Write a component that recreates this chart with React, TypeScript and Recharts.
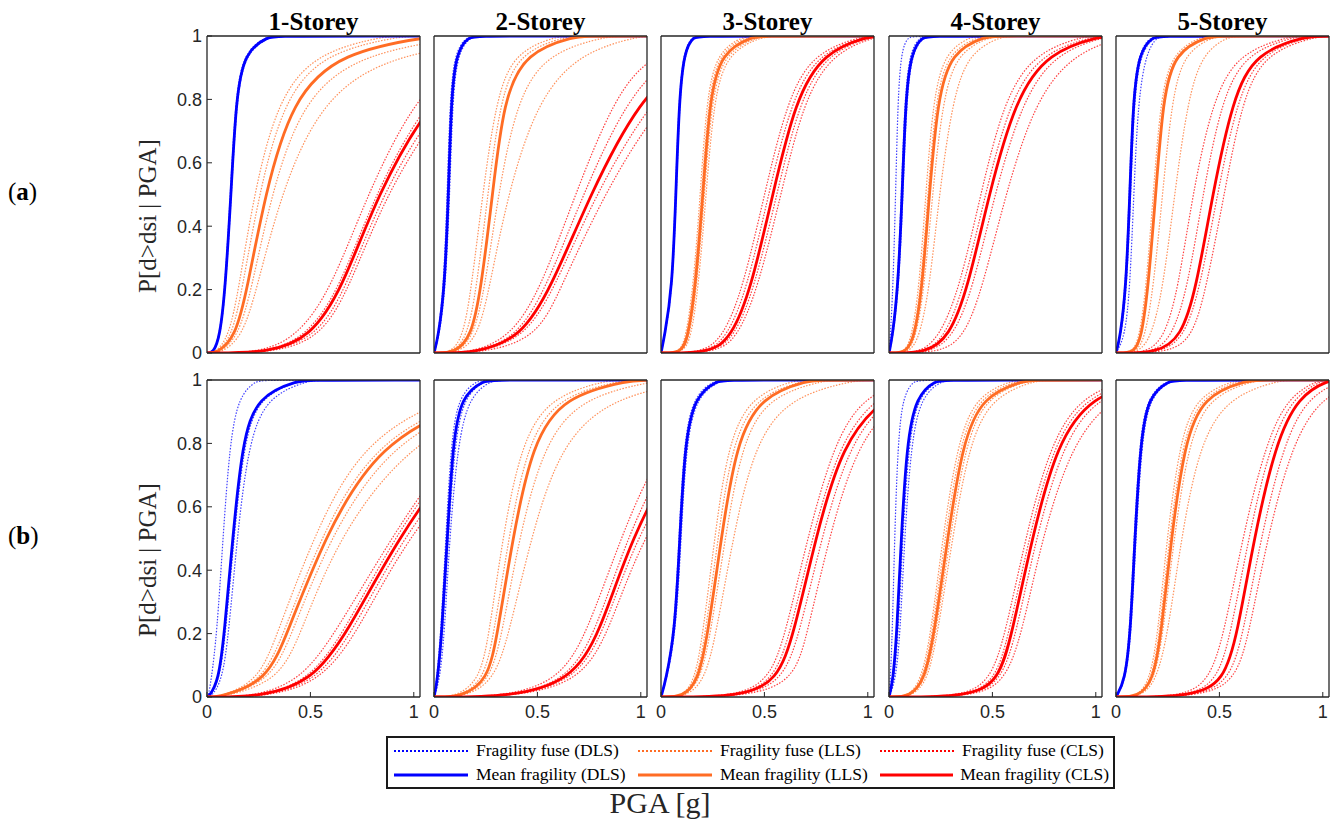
import React from 'react';
import { LineChart, Line, XAxis, YAxis } from 'recharts';

const STOREYS = ['1-Storey', '2-Storey', '3-Storey', '4-Storey', '5-Storey'];
const ROW_LABELS = ['a', 'b'];
const PGA_TICKS = [0, 0.5, 1];
const P_TICKS = [0, 0.2, 0.4, 0.6, 0.8, 1];

// probability levels; every curve below lists the PGA [g] at which it reaches each level
const P_LEVELS = [0, 0.05, 0.2, 0.5, 0.8, 0.95, 1];

// ---- row (a) ----
const dlsMeanA = [
  [0.03, 0.062, 0.088, 0.116, 0.14, 0.18, 0.3],
  [0, 0.02, 0.051, 0.07, 0.083, 0.107, 0.17],
  [0, 0.016, 0.054, 0.072, 0.088, 0.112, 0.155],
  [0, 0.016, 0.043, 0.064, 0.08, 0.107, 0.163],
  [0, 0.02, 0.048, 0.067, 0.083, 0.112, 0.18],
];
const dlsFuseA = [
  [[0.032, 0.064, 0.09, 0.118, 0.143, 0.185, 0.31], [0.028, 0.06, 0.086, 0.113, 0.137, 0.176, 0.29]],
  [[0, 0.018, 0.046, 0.064, 0.077, 0.1, 0.16], [0, 0.024, 0.056, 0.076, 0.09, 0.115, 0.18], [0, 0.022, 0.053, 0.073, 0.087, 0.111, 0.175]],
  [[0, 0.015, 0.052, 0.07, 0.086, 0.109, 0.15], [0, 0.018, 0.056, 0.074, 0.09, 0.115, 0.16]],
  [[0, 0.006, 0.019, 0.032, 0.043, 0.059, 0.09], [0, 0.014, 0.04, 0.06, 0.076, 0.1, 0.15], [0, 0.019, 0.047, 0.068, 0.085, 0.112, 0.17]],
  [[0, 0.043, 0.067, 0.086, 0.107, 0.147, 0.2], [0, 0.018, 0.045, 0.064, 0.08, 0.108, 0.17], [0, 0.024, 0.052, 0.071, 0.088, 0.118, 0.19]],
];
const llsMeanA = [
  [0.05, 0.137, 0.194, 0.28, 0.41, 0.645, 1.1],
  [0.1, 0.18, 0.227, 0.283, 0.336, 0.443, 0.69],
  [0.1, 0.13, 0.166, 0.203, 0.235, 0.29, 0.45],
  [0.083, 0.123, 0.16, 0.195, 0.235, 0.3, 0.47],
  [0.09, 0.123, 0.155, 0.192, 0.227, 0.283, 0.45],
];
const llsFuseA = [
  [[0.04, 0.105, 0.153, 0.226, 0.34, 0.53, 0.87], [0.045, 0.12, 0.17, 0.25, 0.37, 0.57, 0.95], [0.06, 0.15, 0.215, 0.31, 0.46, 0.75, 1.3], [0.07, 0.17, 0.24, 0.355, 0.55, 0.9, 1.6]],
  [[0.08, 0.14, 0.18, 0.235, 0.3, 0.387, 0.6], [0.09, 0.16, 0.205, 0.26, 0.32, 0.41, 0.65], [0.11, 0.19, 0.245, 0.31, 0.4, 0.55, 0.85], [0.12, 0.21, 0.267, 0.355, 0.5, 0.71, 1.0]],
  [[0.09, 0.12, 0.155, 0.19, 0.22, 0.27, 0.4], [0.1, 0.126, 0.16, 0.197, 0.228, 0.28, 0.42], [0.105, 0.137, 0.172, 0.21, 0.245, 0.305, 0.48], [0.11, 0.145, 0.18, 0.218, 0.255, 0.32, 0.5]],
  [[0.075, 0.11, 0.145, 0.178, 0.213, 0.27, 0.4], [0.08, 0.118, 0.153, 0.188, 0.225, 0.285, 0.44], [0.09, 0.13, 0.17, 0.21, 0.26, 0.33, 0.5], [0.1, 0.147, 0.195, 0.243, 0.307, 0.387, 0.55]],
  [[0.08, 0.113, 0.145, 0.18, 0.215, 0.27, 0.42], [0.085, 0.12, 0.152, 0.188, 0.222, 0.278, 0.44], [0.1, 0.14, 0.18, 0.225, 0.27, 0.33, 0.48], [0.11, 0.17, 0.227, 0.283, 0.347, 0.42, 0.55]],
];
const clsMeanA = [
  [0.3, 0.5, 0.653, 0.823, 1.08, 1.35, 1.8],
  [0.21, 0.42, 0.563, 0.755, 0.99, 1.25, 1.7],
  [0.24, 0.34, 0.435, 0.54, 0.65, 0.787, 1.01],
  [0.18, 0.29, 0.38, 0.483, 0.61, 0.77, 1.03],
  [0.2, 0.315, 0.387, 0.467, 0.563, 0.675, 0.93],
];
const clsFuseA = [
  [[0.25, 0.435, 0.6, 0.775, 1.0, 1.25, 1.7], [0.28, 0.48, 0.64, 0.81, 1.06, 1.32, 1.8], [0.3, 0.53, 0.67, 0.845, 1.12, 1.4, 1.9], [0.33, 0.55, 0.685, 0.863, 1.15, 1.45, 2.0]],
  [[0.18, 0.37, 0.515, 0.683, 0.867, 1.05, 1.4], [0.2, 0.4, 0.54, 0.72, 0.93, 1.15, 1.5], [0.22, 0.44, 0.58, 0.78, 1.05, 1.3, 1.8], [0.25, 0.5, 0.61, 0.82, 1.1, 1.4, 1.9]],
  [[0.2, 0.3, 0.395, 0.5, 0.61, 0.74, 0.98], [0.22, 0.32, 0.415, 0.52, 0.63, 0.765, 1.0], [0.25, 0.355, 0.45, 0.56, 0.67, 0.81, 1.03], [0.27, 0.37, 0.467, 0.58, 0.69, 0.835, 1.05]],
  [[0.15, 0.243, 0.34, 0.443, 0.555, 0.707, 0.95], [0.17, 0.27, 0.36, 0.465, 0.585, 0.74, 1.0], [0.2, 0.31, 0.405, 0.51, 0.645, 0.81, 1.06], [0.25, 0.363, 0.45, 0.563, 0.707, 0.9, 1.15]],
  [[0.15, 0.235, 0.3, 0.37, 0.467, 0.595, 0.85], [0.18, 0.27, 0.345, 0.42, 0.51, 0.63, 0.88], [0.22, 0.33, 0.405, 0.49, 0.585, 0.7, 0.95], [0.26, 0.37, 0.435, 0.523, 0.61, 0.723, 0.98]],
];

// ---- row (b) ----
const dlsMeanB = [
  [0.008, 0.056, 0.084, 0.124, 0.17, 0.24, 0.45],
  [0, 0.016, 0.038, 0.064, 0.091, 0.131, 0.243],
  [0, 0.022, 0.067, 0.091, 0.115, 0.163, 0.275],
  [0, 0.019, 0.038, 0.059, 0.086, 0.131, 0.227],
  [0, 0.043, 0.07, 0.091, 0.118, 0.155, 0.26],
];
const dlsFuseB = [
  [[0.005, 0.02, 0.048, 0.077, 0.11, 0.153, 0.24], [0.01, 0.06, 0.09, 0.13, 0.178, 0.25, 0.46], [0.02, 0.073, 0.105, 0.145, 0.2, 0.29, 0.5]],
  [[0, 0.012, 0.033, 0.057, 0.082, 0.118, 0.21], [0, 0.02, 0.043, 0.069, 0.1, 0.145, 0.25], [0, 0.027, 0.051, 0.075, 0.115, 0.171, 0.28]],
  [[0, 0.025, 0.072, 0.097, 0.122, 0.172, 0.29], [0, 0.02, 0.063, 0.087, 0.11, 0.155, 0.26]],
  [[0, 0.006, 0.016, 0.027, 0.043, 0.067, 0.12], [0, 0.025, 0.045, 0.066, 0.095, 0.14, 0.24], [0, 0.032, 0.054, 0.075, 0.107, 0.155, 0.26]],
  [[0, 0.04, 0.066, 0.087, 0.113, 0.15, 0.25], [0, 0.046, 0.074, 0.096, 0.124, 0.163, 0.27]],
];
const llsMeanB = [
  [0.065, 0.29, 0.387, 0.565, 0.823, 1.3, 1.9],
  [0.13, 0.26, 0.307, 0.38, 0.475, 0.627, 0.96],
  [0.107, 0.18, 0.227, 0.291, 0.363, 0.483, 0.72],
  [0.1, 0.171, 0.219, 0.283, 0.355, 0.451, 0.66],
  [0.107, 0.18, 0.219, 0.267, 0.331, 0.419, 0.64],
];
const llsFuseB = [
  [[0.06, 0.25, 0.34, 0.51, 0.742, 1.15, 1.6], [0.065, 0.27, 0.37, 0.545, 0.8, 1.25, 1.8], [0.07, 0.31, 0.41, 0.59, 0.88, 1.35, 2.0], [0.08, 0.347, 0.452, 0.63, 0.97, 1.45, 2.1]],
  [[0.1, 0.22, 0.267, 0.331, 0.42, 0.563, 0.85], [0.12, 0.24, 0.29, 0.36, 0.45, 0.6, 0.92], [0.14, 0.27, 0.33, 0.41, 0.53, 0.72, 1.1], [0.15, 0.29, 0.363, 0.467, 0.611, 0.867, 1.3]],
  [[0.1, 0.163, 0.203, 0.259, 0.323, 0.435, 0.65], [0.105, 0.172, 0.215, 0.275, 0.343, 0.46, 0.7], [0.11, 0.19, 0.24, 0.31, 0.39, 0.52, 0.8], [0.12, 0.211, 0.267, 0.347, 0.451, 0.627, 0.95]],
  [[0.09, 0.155, 0.203, 0.259, 0.331, 0.419, 0.6], [0.095, 0.163, 0.21, 0.27, 0.343, 0.435, 0.63], [0.1, 0.178, 0.227, 0.295, 0.37, 0.47, 0.68], [0.11, 0.187, 0.235, 0.307, 0.387, 0.5, 0.72]],
  [[0.1, 0.163, 0.203, 0.246, 0.307, 0.387, 0.58], [0.105, 0.172, 0.211, 0.257, 0.32, 0.405, 0.61], [0.11, 0.185, 0.228, 0.28, 0.35, 0.45, 0.68], [0.12, 0.195, 0.251, 0.315, 0.403, 0.547, 0.8]],
];
const clsMeanB = [
  [0.26, 0.508, 0.677, 0.92, 1.25, 1.6, 2.2],
  [0.37, 0.66, 0.803, 0.95, 1.2, 1.45, 1.9],
  [0.387, 0.563, 0.643, 0.747, 0.875, 1.08, 1.3],
  [0.387, 0.531, 0.595, 0.691, 0.811, 0.979, 1.25],
  [0.37, 0.523, 0.587, 0.667, 0.771, 0.883, 1.03],
];
const clsFuseB = [
  [[0.22, 0.45, 0.62, 0.887, 1.2, 1.5, 2.1], [0.25, 0.49, 0.66, 0.9, 1.22, 1.55, 2.1], [0.28, 0.53, 0.7, 0.94, 1.3, 1.65, 2.2], [0.3, 0.55, 0.725, 0.96, 1.35, 1.7, 2.3]],
  [[0.33, 0.603, 0.74, 0.9, 1.1, 1.35, 1.8], [0.36, 0.64, 0.78, 0.93, 1.15, 1.4, 1.85], [0.38, 0.68, 0.82, 0.97, 1.25, 1.5, 2.0], [0.4, 0.707, 0.843, 1.0, 1.3, 1.6, 2.1]],
  [[0.35, 0.523, 0.603, 0.707, 0.835, 0.98, 1.2], [0.37, 0.545, 0.625, 0.73, 0.86, 1.04, 1.25], [0.4, 0.59, 0.67, 0.775, 0.91, 1.1, 1.35], [0.42, 0.643, 0.707, 0.811, 0.947, 1.15, 1.4]],
  [[0.35, 0.491, 0.563, 0.659, 0.779, 0.931, 1.15], [0.37, 0.515, 0.58, 0.676, 0.795, 0.955, 1.2], [0.4, 0.545, 0.615, 0.71, 0.84, 1.01, 1.28], [0.42, 0.563, 0.643, 0.739, 0.883, 1.08, 1.35]],
  [[0.32, 0.451, 0.523, 0.611, 0.723, 0.835, 0.98], [0.35, 0.49, 0.555, 0.64, 0.745, 0.86, 1.0], [0.39, 0.55, 0.615, 0.7, 0.81, 0.93, 1.1], [0.41, 0.579, 0.643, 0.731, 0.851, 0.995, 1.2]],
];

const STATES = [
  { name: 'DLS', color: '#0000ff', mean: [dlsMeanA, dlsMeanB], fuse: [dlsFuseA, dlsFuseB] },
  { name: 'LLS', color: '#ff6c24', mean: [llsMeanA, llsMeanB], fuse: [llsFuseA, llsFuseB] },
  { name: 'CLS', color: '#ff0000', mean: [clsMeanA, clsMeanB], fuse: [clsFuseA, clsFuseB] },
];

const PLOT_LEFT = [207, 434, 661, 889, 1116];
const PLOT_TOP = [36, 380];
const PLOT_W = 213;
const PLOT_H = 317;
const AXIS_W = 50;
const AXIS_H = 32;
const PAD = 14;
const PGA_MAX = 1.03;
const INK = '#262626';
const SERIF = '"Liberation Serif", "Times New Roman", serif';
const SANS = '"Liberation Sans", Arial, sans-serif';

type Pt = { pga: number; p: number };

const toPoints = (xs: number[]): Pt[] => {
  const pts = xs.map((x, i) => ({ pga: x, p: P_LEVELS[i] }));
  if (xs[0] > 0) pts.unshift({ pga: 0, p: 0 });
  const last = xs[xs.length - 1];
  pts.push({ pga: last + 0.05, p: 1 }, { pga: 3, p: 1 });
  return pts;
};

const tickStyle = { fontSize: 18, fill: INK, fontFamily: SANS };

const Panel = ({ row, col }: { row: number; col: number }) => {
  const fuseLines: React.ReactNode[] = [];
  const meanLines: React.ReactNode[] = [];
  STATES.forEach((s) => {
    s.fuse[row][col].forEach((xs, k) => {
      fuseLines.push(
        <Line
          key={`${s.name}-f${k}`}
          xAxisId="b"
          yAxisId="l"
          data={toPoints(xs)}
          dataKey="p"
          type="basis"
          stroke={s.color}
          strokeWidth={1.2}
          strokeOpacity={0.75}
          strokeDasharray="1.5 1.5"
          dot={false}
          activeDot={false}
          isAnimationActive={false}
        />
      );
    });
    meanLines.push(
      <Line
        key={`${s.name}-m`}
        xAxisId="b"
        yAxisId="l"
        data={toPoints(s.mean[row][col])}
        dataKey="p"
        type="basis"
        stroke={s.color}
        strokeWidth={2.8}
        dot={false}
        activeDot={false}
        isAnimationActive={false}
      />
    );
  });

  const axisLine = { stroke: INK, strokeWidth: 1.3 };
  const tickLine = { stroke: INK, strokeWidth: 1 };

  return (
    <div style={{ position: 'absolute', left: PLOT_LEFT[col] - AXIS_W, top: PLOT_TOP[row] - PAD }}>
      <LineChart
        width={AXIS_W + PLOT_W + PAD}
        height={PAD + PLOT_H + AXIS_H}
        margin={{ top: PAD - 1, right: PAD - 1, bottom: 0, left: 0 }}
      >
        <XAxis
          xAxisId="b"
          type="number"
          dataKey="pga"
          domain={[0, PGA_MAX]}
          ticks={PGA_TICKS}
          allowDataOverflow
          height={AXIS_H}
          tickSize={-5}
          tickMargin={13}
          axisLine={axisLine}
          tickLine={tickLine}
          tick={row === 1 ? tickStyle : false}
          interval={0}
        />
        <XAxis
          xAxisId="t"
          orientation="top"
          type="number"
          dataKey="pga"
          domain={[0, PGA_MAX]}
          ticks={PGA_TICKS}
          allowDataOverflow
          height={1}
          tickSize={-5}
          axisLine={axisLine}
          tickLine={tickLine}
          tick={false}
          interval={0}
        />
        <YAxis
          yAxisId="l"
          type="number"
          dataKey="p"
          domain={[0, 1]}
          ticks={P_TICKS}
          allowDataOverflow
          width={AXIS_W}
          tickSize={-5}
          tickMargin={10}
          axisLine={axisLine}
          tickLine={tickLine}
          tick={col === 0 ? tickStyle : false}
          interval={0}
        />
        <YAxis
          yAxisId="r"
          orientation="right"
          type="number"
          dataKey="p"
          domain={[0, 1]}
          ticks={P_TICKS}
          allowDataOverflow
          width={1}
          tickSize={-5}
          axisLine={axisLine}
          tickLine={tickLine}
          tick={false}
          interval={0}
        />
        {fuseLines}
        {meanLines}
      </LineChart>
    </div>
  );
};

const LegendItem = ({ color, dotted, label }: { color: string; dotted: boolean; label: string }) => (
  <div style={{ display: 'flex', alignItems: 'center', height: 24 }}>
    <svg width={76} height={10} style={{ marginRight: 7 }}>
      <line
        x1={1}
        x2={75}
        y1={5}
        y2={5}
        stroke={color}
        strokeWidth={dotted ? 2.2 : 3}
        strokeDasharray={dotted ? '2 2' : undefined}
      />
    </svg>
    <span style={{ fontFamily: SERIF, fontSize: 17.5, color: '#000', whiteSpace: 'nowrap' }}>{label}</span>
  </div>
);

export default function App() {
  return (
    <div
      style={{
        position: 'absolute',
        left: 0,
        top: 0,
        width: 1338,
        height: 825,
        background: '#fff',
        overflow: 'hidden',
      }}
    >
      {STOREYS.map((t, c) => (
        <div
          key={t}
          style={{
            position: 'absolute',
            left: PLOT_LEFT[c] + PLOT_W / 2,
            top: 22,
            transform: 'translate(-50%, -50%)',
            fontFamily: SERIF,
            fontWeight: 'bold',
            fontSize: 25,
            color: '#000',
            whiteSpace: 'nowrap',
          }}
        >
          {t}
        </div>
      ))}

      {ROW_LABELS.map((r, i) => (
        <React.Fragment key={r}>
          <div
            style={{
              position: 'absolute',
              left: 8,
              top: PLOT_TOP[i] + 156,
              transform: 'translateY(-50%)',
              fontFamily: SERIF,
              fontSize: 25,
              color: '#000',
            }}
          >
            (<b>{r}</b>)
          </div>
          <div
            style={{
              position: 'absolute',
              left: 148,
              top: PLOT_TOP[i] + 180,
              transform: 'translate(-50%, -50%) rotate(-90deg)',
              fontFamily: SERIF,
              fontSize: 25,
              color: INK,
              whiteSpace: 'nowrap',
            }}
          >
            P[d&gt;dsi | PGA]
          </div>
        </React.Fragment>
      ))}

      {[0, 1].map((r) => PLOT_LEFT.map((_, c) => <Panel key={`${r}-${c}`} row={r} col={c} />))}

      <div
        style={{
          position: 'absolute',
          left: 386,
          top: 736,
          width: 729,
          height: 53,
          boxSizing: 'border-box',
          border: '2px solid #1a1a1a',
          display: 'grid',
          gridTemplateColumns: '244px 242px 230px',
          alignContent: 'center',
          paddingLeft: 5,
        }}
      >
        {['Fragility fuse', 'Mean fragility'].map((kind, k) =>
          STATES.map((s) => (
            <LegendItem key={`${kind}-${s.name}`} color={s.color} dotted={k === 0} label={`${kind} (${s.name})`} />
          ))
        )}
      </div>

      <div
        style={{
          position: 'absolute',
          left: 660,
          top: 803,
          transform: 'translate(-50%, -50%)',
          fontFamily: SERIF,
          fontSize: 30,
          color: INK,
          whiteSpace: 'nowrap',
        }}
      >
        PGA [g]
      </div>
    </div>
  );
}
